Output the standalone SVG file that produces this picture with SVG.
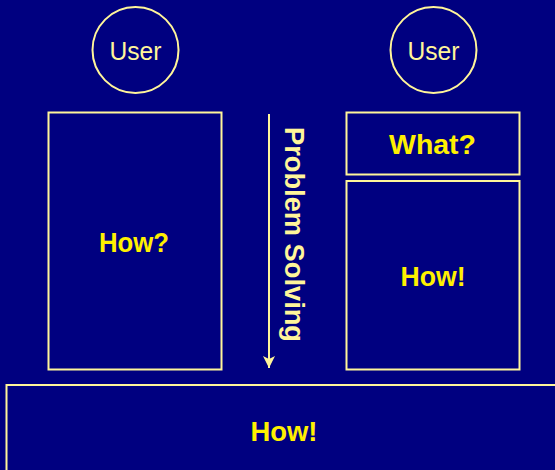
<svg xmlns="http://www.w3.org/2000/svg" width="555" height="470" viewBox="0 0 555 470">
  <defs>
    <style>
      .frame { fill: none; stroke: #FFF59A; stroke-width: 2; }
      .user { font-family: "Liberation Sans", Arial, sans-serif; font-size: 26px; fill: #FFF59A; text-anchor: middle; }
      .label { font-family: "Liberation Sans", Arial, sans-serif; font-size: 27px; font-weight: bold; fill: #FFF000; text-anchor: middle; }
      .axis { font-family: "Liberation Sans", Arial, sans-serif; font-size: 27px; font-weight: bold; fill: #FFF59A; }
    </style>
    <marker id="arrowhead" viewBox="0 0 12 16" refX="12" refY="8" markerWidth="12" markerHeight="16" markerUnits="userSpaceOnUse" orient="auto">
      <path d="M0,2 L12,8 L0,14 L3,8 Z" fill="#FFF59A"/>
    </marker>
  </defs>

  <rect x="0" y="0" width="555" height="470" fill="#000080"/>

  <g id="user-left">
    <circle class="frame" cx="135.5" cy="50" r="43"/>
    <text class="user" x="135.5" y="60" textLength="52" lengthAdjust="spacingAndGlyphs">User</text>
  </g>

  <g id="user-right">
    <circle class="frame" cx="433.5" cy="50" r="43"/>
    <text class="user" x="433.5" y="60" textLength="52" lengthAdjust="spacingAndGlyphs">User</text>
  </g>

  <g id="how-question">
    <rect class="frame" x="48.5" y="112.5" width="173" height="257"/>
    <text class="label" x="134" y="252" textLength="70" lengthAdjust="spacingAndGlyphs">How?</text>
  </g>

  <g id="what">
    <rect class="frame" x="346.5" y="112.5" width="173" height="62"/>
    <text class="label" x="432.5" y="154" textLength="87" lengthAdjust="spacingAndGlyphs">What?</text>
  </g>

  <g id="how-right">
    <rect class="frame" x="346.5" y="181" width="173" height="188.5"/>
    <text class="label" x="433" y="286" textLength="65" lengthAdjust="spacingAndGlyphs">How!</text>
  </g>

  <g id="how-base">
    <rect class="frame" x="6.5" y="385" width="570" height="110"/>
    <text class="label" x="284" y="441" textLength="67" lengthAdjust="spacingAndGlyphs">How!</text>
  </g>

  <g id="connectors">
    <line x1="269" y1="114" x2="269" y2="368" stroke="#FFF59A" stroke-width="2" marker-end="url(#arrowhead)"/>
    <text class="axis" transform="translate(285,127) rotate(90)" x="0" y="0" textLength="215" lengthAdjust="spacingAndGlyphs">Problem Solving</text>
  </g>
</svg>
